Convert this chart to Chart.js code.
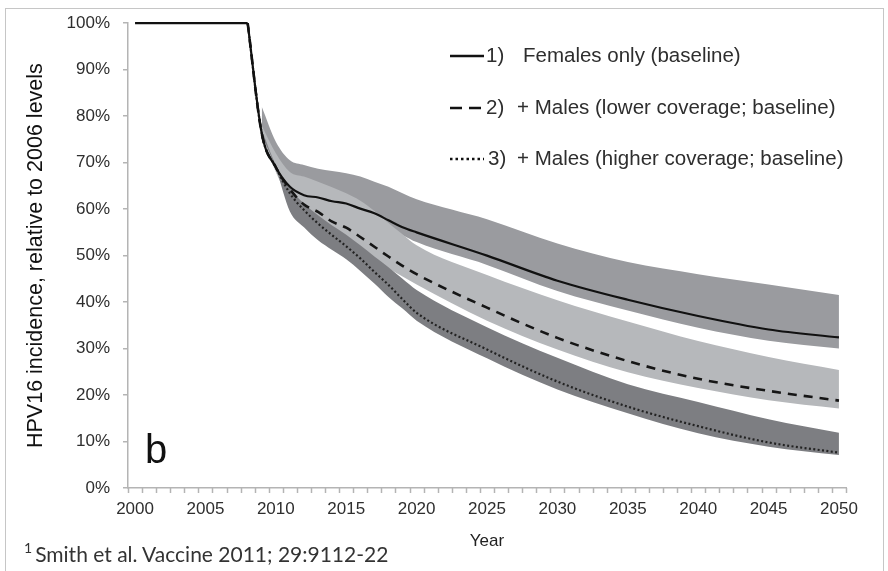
<!DOCTYPE html>
<html>
<head>
<meta charset="utf-8">
<script src="https://cdn.jsdelivr.net/npm/chart.js@4.4.1/dist/chart.umd.min.js"></script>
<style>
  html, body { margin: 0; padding: 0; background: #fff; }
  #wrap { position: relative; width: 888px; height: 571px; overflow: hidden; background: #fff; }
  #frame { position: absolute; left: 5px; top: 8px; width: 879px; height: 620px; border: 1.5px solid #c6c6c6; box-sizing: border-box; }
  #c { position: absolute; left: 0; top: 0; }
  #cite { position: absolute; left: 24px; top: 540px; font-family: Lato, "Open Sans", sans-serif; font-size: 21px; color: #333; white-space: nowrap; }
  #cite sup { font-size: 14px; position: relative; top: -1px; margin-right: 3px; }
</style>
</head>
<body>
<div id="wrap">
  <div id="frame"></div>
  <canvas id="c" width="888" height="571"></canvas>
  <div id="cite"><sup>1</sup>Smith et al. Vaccine 2011; 29:9112-22</div>
</div>
<script>
// Projected HPV16 incidence, % of 2006 level
const preYears = [2000, 2008];
const preValues = [100, 100];

const years = [2008, 2009, 2010, 2011, 2012, 2013, 2014, 2015, 2016, 2017, 2018, 2019, 2020, 2025, 2030, 2035, 2040, 2045, 2050];
const femalesOnly = [100, 76.3, 69.0, 64.8, 63.0, 62.5, 61.7, 61.2, 60.1, 59.1, 57.6, 56.1, 55.0, 50.0, 44.6, 40.5, 37.0, 34.1, 32.4];
const malesLower  = [100, 76.3, 69.0, 64.3, 61.0, 59.4, 57.3, 56.0, 54.0, 51.9, 49.8, 47.8, 46.0, 38.8, 32.3, 27.3, 23.5, 20.9, 18.8];
const malesHigher = [100, 76.3, 69.0, 63.4, 59.8, 56.9, 54.4, 52.0, 49.4, 46.5, 43.7, 40.6, 37.7, 29.8, 22.9, 17.5, 13.3, 9.8, 7.6];

// Uncertainty ranges
const bandYears = [2009, 2010, 2011, 2012, 2013, 2014, 2015, 2016, 2017, 2018, 2019, 2020, 2025, 2030, 2035, 2040, 2045, 2050];
const femalesHigh = [82.0, 74.5, 70.5, 69.5, 68.7, 68.2, 67.7, 67.0, 65.9, 64.8, 63.4, 62.1, 57.8, 52.6, 48.6, 46.0, 43.8, 41.5];
const femalesLow  = [76.0, 68.5, 64.0, 62.0, 61.3, 60.3, 59.5, 58.3, 57.0, 55.8, 54.4, 52.9, 48.0, 42.4, 38.2, 34.5, 31.7, 30.0];
const lowerHigh   = [78.0, 72.0, 68.0, 67.0, 65.9, 64.7, 63.4, 61.8, 59.6, 57.0, 54.6, 52.2, 45.8, 40.4, 35.8, 31.6, 28.2, 25.4];
const lowerLow    = [75.5, 68.0, 62.0, 59.0, 57.0, 55.0, 53.2, 51.3, 49.2, 47.3, 45.5, 43.8, 36.0, 29.8, 24.9, 21.5, 18.9, 17.1];
const higherHigh  = [77.0, 69.5, 64.5, 61.2, 58.7, 56.5, 54.5, 52.2, 49.8, 47.5, 45.0, 42.6, 34.6, 28.0, 22.3, 18.5, 14.8, 11.9];
const higherLow   = [76.0, 68.8, 59.5, 56.1, 53.3, 51.2, 49.2, 46.7, 44.0, 41.1, 38.6, 36.0, 27.9, 21.2, 16.1, 11.8, 8.9, 7.1];

const yearTicks = [2000, 2005, 2010, 2015, 2020, 2025, 2030, 2035, 2040, 2045, 2050];
const pctTicks = [0, 10, 20, 30, 40, 50, 60, 70, 80, 90, 100];
const legendItems = [
  ['1)', 'Females only (baseline)', []],
  ['2)', '+ Males (lower coverage; baseline)', [12, 7]],
  ['3)', '+ Males (higher coverage; baseline)', [2.5, 3]]
];

const FONT = '"Liberation Sans", Arial, sans-serif';
const AXIS = '#b4b4b4';

function pts(xs, ys) { return xs.map((x, i) => ({ x: x, y: ys[i] })); }

function lineSet(xs, ys, dash, width, color) {
  return {
    data: pts(xs, ys), borderColor: color, borderWidth: width, borderDash: dash,
    pointRadius: 0, fill: false, cubicInterpolationMode: 'monotone', clip: 8
  };
}
function bandSet(xs, ys, color, fillNext) {
  return {
    data: pts(xs, ys), borderColor: 'rgba(0,0,0,0)', borderWidth: 0, backgroundColor: color,
    pointRadius: 0, fill: fillNext ? '+1' : false, cubicInterpolationMode: 'monotone', clip: 8
  };
}

const datasets = [
  lineSet(preYears, preValues, [], 2.2, '#111'),
  lineSet(years, femalesOnly, [], 2.2, '#111'),
  lineSet(years, malesLower, [9, 7], 2.6, '#161616'),
  lineSet(years, malesHigher, [2, 2.4], 2.2, '#222'),
  bandSet(bandYears, higherHigh, '#7d7e82', true),
  bandSet(bandYears, higherLow, '#7d7e82', false),
  bandSet(bandYears, lowerHigh, '#b6b8bb', true),
  bandSet(bandYears, lowerLow, '#b6b8bb', false),
  bandSet(bandYears, femalesHigh, '#9a9b9f', true),
  bandSet(bandYears, femalesLow, '#9a9b9f', false)
];

// Minor year ticks below the x axis, legend block and panel letter
const decorations = {
  id: 'decorations',
  afterDraw(chart) {
    const ctx = chart.ctx;
    const xs = chart.scales.x;
    const base = chart.chartArea.bottom;
    ctx.save();
    ctx.strokeStyle = AXIS;
    ctx.lineWidth = 1.5;
    for (let y = 1999.5; y <= 2050.5; y += 1) {
      const px = Math.round(xs.getPixelForValue(y)) + 0.5;
      ctx.beginPath();
      ctx.moveTo(px, base);
      ctx.lineTo(px, base + 5);
      ctx.stroke();
    }
    const rows = [56, 108, 159];
    const numX = [486, 486, 488];
    const textX = [523, 517, 517];
    ctx.font = '20.5px ' + FONT;
    ctx.textBaseline = 'middle';
    ctx.fillStyle = '#2e2e2e';
    legendItems.forEach((item, i) => {
      const y = rows[i];
      ctx.beginPath();
      ctx.setLineDash(item[2]);
      ctx.strokeStyle = '#111';
      ctx.lineWidth = 2.6;
      ctx.moveTo(450, y);
      ctx.lineTo(484, y);
      ctx.stroke();
      ctx.setLineDash([]);
      ctx.fillText(item[0], numX[i], y);
      ctx.fillText(item[1], textX[i], y);
    });
    ctx.font = '40px ' + FONT;
    ctx.fillStyle = '#111';
    ctx.textBaseline = 'alphabetic';
    ctx.fillText('b', 145, 463);
    ctx.restore();
  }
};

new Chart(document.getElementById('c'), {
  type: 'line',
  data: { datasets: datasets },
  options: {
    responsive: false,
    animation: false,
    events: [],
    layout: { padding: { left: 5, top: 23, right: 42, bottom: 0 } },
    plugins: { legend: { display: false }, tooltip: { enabled: false } },
    scales: {
      x: {
        type: 'linear', min: 1999.5, max: 2050.5,
        afterBuildTicks: s => { s.ticks = yearTicks.map(v => ({ value: v })); },
        afterFit: s => { s.height = 83; },
        ticks: { font: { family: FONT, size: 17 }, color: '#2e2e2e', padding: 11, maxRotation: 0, autoSkip: false, callback: v => String(v) },
        grid: { display: false, drawTicks: false },
        border: { display: true, color: AXIS, width: 1.5 },
        title: { display: true, text: 'Year', font: { family: FONT, size: 17 }, color: '#222', padding: { top: 0, bottom: 19 } }
      },
      y: {
        min: 0, max: 100,
        afterBuildTicks: s => { s.ticks = pctTicks.map(v => ({ value: v })); },
        afterFit: s => { s.width = 123; },
        ticks: { font: { family: FONT, size: 17 }, color: '#2e2e2e', padding: 13, callback: v => v + '%' },
        grid: { display: true, drawOnChartArea: false, drawTicks: true, tickLength: 5, color: AXIS, lineWidth: 1.5 },
        border: { display: true, color: AXIS, width: 1.5 },
        title: { display: true, text: 'HPV16 incidence, relative to 2006 levels', font: { family: FONT, size: 21.5 }, color: '#111', padding: { top: 18, bottom: 0 } }
      }
    }
  },
  plugins: [decorations]
});
</script>
</body>
</html>
